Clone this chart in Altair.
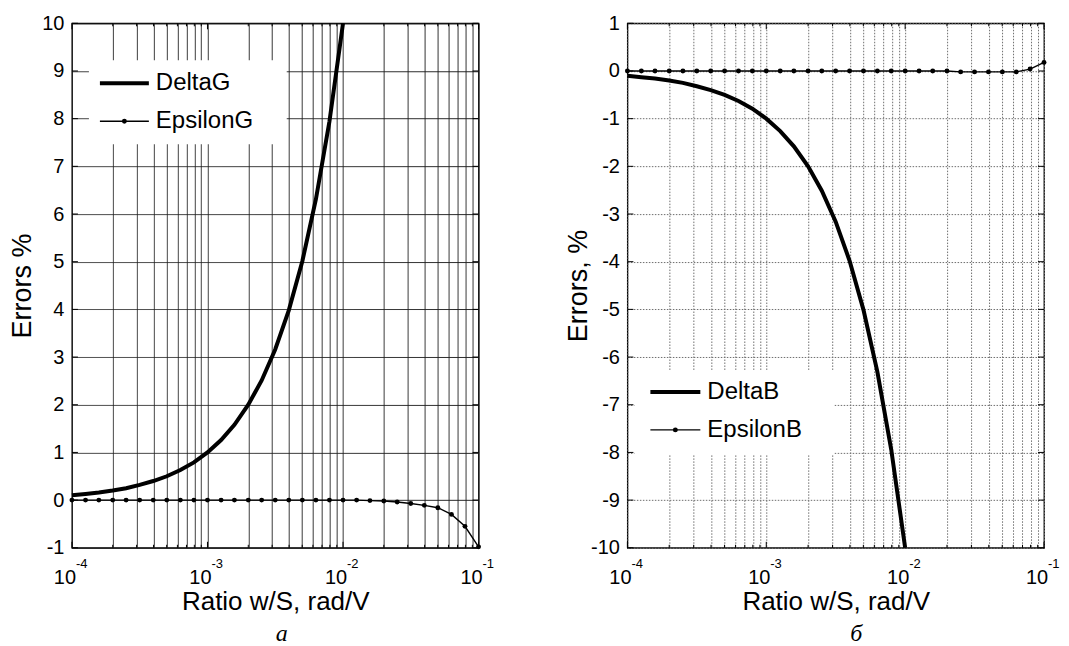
import altair as alt
import pandas as pd

# ---------------- data ----------------
x_ratio = [0.0001, 0.000126, 0.000158, 0.0002, 0.000251, 0.000316, 0.000398,
           0.000501, 0.000631, 0.000794, 0.001, 0.00126, 0.00158, 0.002,
           0.00251, 0.00316, 0.00398, 0.00501, 0.00631, 0.00794, 0.01,
           0.0126, 0.0158, 0.02, 0.0251, 0.0316, 0.0398, 0.0501, 0.0631,
           0.0794, 0.1]
delta_g = [0.10, 0.13, 0.16, 0.20, 0.25, 0.32, 0.40, 0.50, 0.63, 0.79, 1.00,
           1.26, 1.58, 2.00, 2.51, 3.16, 3.98, 5.01, 6.31, 7.94, 10.0]
eps_g = [0, 0, 0, 0, 0, 0, 0, 0, 0, 0, 0, 0, 0, 0, 0, 0, 0, 0, 0, 0, 0,
         0, -0.01, -0.02, -0.04, -0.07, -0.11, -0.16, -0.30, -0.55, -0.98]
delta_b = [-0.10, -0.13, -0.16, -0.20, -0.25, -0.32, -0.40, -0.50, -0.63,
           -0.79, -1.00, -1.26, -1.58, -2.00, -2.51, -3.16, -3.98, -5.01,
           -6.31, -7.94, -10.0]
eps_b = [0, 0, 0, 0, 0, 0, 0, 0, 0, 0, 0, 0, 0, 0, 0, 0, 0, 0, 0, 0, 0,
         0, 0, 0, -0.02, -0.02, -0.02, -0.02, -0.02, 0.04, 0.18]

names_a = ["DeltaG", "EpsilonG"]
names_b = ["DeltaB", "EpsilonB"]
x_title = "Ratio w/S, rad/V"
y_title_a = "Errors %"
y_title_b = "Errors, %"
sub_a = "а"
sub_b = "б"

grid_x = [0.0001, 0.0002, 0.0003, 0.0004, 0.0005, 0.0006, 0.0007, 0.0008, 0.0009,
          0.001, 0.002, 0.003, 0.004, 0.005, 0.006, 0.007, 0.008, 0.009,
          0.01, 0.02, 0.03, 0.04, 0.05, 0.06, 0.07, 0.08, 0.09, 0.1]
major_x = [0.0001, 0.001, 0.01, 0.1]
major_exp = ["-4", "-3", "-2", "-1"]
y_ticks_a = [-1, 0, 1, 2, 3, 4, 5, 6, 7, 8, 9, 10]
y_ticks_b = [-10, -9, -8, -7, -6, -5, -4, -3, -2, -1, 0, 1]

H = 525
FONT = "Liberation Sans"
THICK = 4
THIN = 1.4
DOT = 24


def panel(width, ydom, yticks, delta, eps, names, ytitle, grid_color, grid_dash,
          grid_width, leg, sub, sub_x):
    xenc = alt.X("x:Q",
                 scale=alt.Scale(type="log", domain=[1e-4, 0.1], nice=False),
                 axis=alt.Axis(values=grid_x, labels=False, ticks=False, tickSize=0,
                               domain=False, grid=True, gridColor=grid_color,
                               gridDash=grid_dash, gridWidth=grid_width,
                               gridOpacity=1,
                               title=x_title, titleFontSize=26,
                               titleFontWeight="normal", titleColor="black",
                               titleFont=FONT, titleY=54, titleBaseline="middle"))
    yenc = alt.Y("y:Q",
                 scale=alt.Scale(domain=ydom, nice=False, zero=False),
                 axis=alt.Axis(values=yticks, ticks=False, tickSize=0, domain=False,
                               grid=True, gridColor=grid_color, gridDash=grid_dash,
                               gridWidth=grid_width, gridOpacity=1,
                               labelFontSize=20, labelPadding=8, labelColor="black",
                               labelFont=FONT,
                               labelExpr="datum.value < 0 ? '-' + abs(datum.value) : '' + datum.value",
                               title=ytitle, titleFontSize=27, titleFontWeight="normal",
                               titleColor="black", titleFont=FONT,
                               titleX=-49, titleY=H / 2, titleBaseline="middle"))

    d_delta = pd.DataFrame({"x": x_ratio[:len(delta)], "y": delta})
    d_eps = pd.DataFrame({"x": x_ratio, "y": eps})
    d_major = pd.DataFrame({"x": major_x, "e": major_exp, "t": ["10"] * len(major_x)})
    d_minor = pd.DataFrame({"x": [v for v in grid_x if v not in major_x]})
    d_yt = pd.DataFrame({"y": yticks})

    base_delta = alt.Chart(d_delta).mark_line(color="black", strokeWidth=THICK).encode(x=xenc, y=yenc)
    eps_line = alt.Chart(d_eps).mark_line(color="black", strokeWidth=THIN).encode(x=xenc, y=yenc)
    eps_pts = alt.Chart(d_eps).mark_circle(color="black", size=DOT, opacity=1).encode(x=xenc, y=yenc)

    # inside ticks
    tick_major_b = alt.Chart(d_major).mark_rule(color="black", strokeWidth=1).encode(
        x=xenc, y=alt.value(H), y2=alt.value(H - 6))
    tick_major_t = alt.Chart(d_major).mark_rule(color="black", strokeWidth=1).encode(
        x=xenc, y=alt.value(0), y2=alt.value(6))
    tick_minor_b = alt.Chart(d_minor).mark_rule(color="black", strokeWidth=1).encode(
        x=xenc, y=alt.value(H), y2=alt.value(H - 3))
    tick_minor_t = alt.Chart(d_minor).mark_rule(color="black", strokeWidth=1).encode(
        x=xenc, y=alt.value(0), y2=alt.value(3))
    tick_y_l = alt.Chart(d_yt).mark_rule(color="black", strokeWidth=1).encode(
        y=yenc, x=alt.value(0), x2=alt.value(6))
    tick_y_r = alt.Chart(d_yt).mark_rule(color="black", strokeWidth=1).encode(
        y=yenc, x=alt.value(width), x2=alt.value(width - 6))

    # x tick labels 10^k
    lab10 = alt.Chart(d_major).mark_text(fontSize=20, font=FONT, color="black",
                                         align="center", baseline="alphabetic",
                                         dx=-7).encode(
        x=xenc, y=alt.value(H + 36), text="t:N")
    labexp = alt.Chart(d_major).mark_text(fontSize=13, font=FONT, color="black",
                                          align="left", baseline="alphabetic",
                                          dx=4).encode(
        x=xenc, y=alt.value(H + 20), text="e:N")

    # legend
    bx, by, bw, bh, lx1, lx2, ly1, ly2, tx = leg
    leg_df = pd.DataFrame({"name": names})
    leg_box = alt.Chart(leg_df.head(1)).mark_rect(fill="white", stroke=None).encode(
        x=alt.value(bx), x2=alt.value(bx + bw), y=alt.value(by), y2=alt.value(by + bh))
    leg_l1 = alt.Chart(leg_df.head(1)).mark_rule(color="black", strokeWidth=THICK).encode(
        x=alt.value(lx1), x2=alt.value(lx2), y=alt.value(ly1))
    leg_l2 = alt.Chart(leg_df.head(1)).mark_rule(color="black", strokeWidth=THIN).encode(
        x=alt.value(lx1), x2=alt.value(lx2), y=alt.value(ly2))
    leg_p2 = alt.Chart(leg_df.head(1)).mark_circle(color="black", size=DOT, opacity=1).encode(
        x=alt.value((lx1 + lx2) / 2), y=alt.value(ly2))
    leg_t1 = alt.Chart(leg_df.iloc[[0]]).mark_text(fontSize=24, font=FONT, color="black",
                                                   align="left", baseline="middle").encode(
        x=alt.value(tx), y=alt.value(ly1), text="name:N")
    leg_t2 = alt.Chart(leg_df.iloc[[1]]).mark_text(fontSize=24, font=FONT, color="black",
                                                   align="left", baseline="middle").encode(
        x=alt.value(tx), y=alt.value(ly2), text="name:N")

    sub_t = alt.Chart(pd.DataFrame({"s": [sub]})).mark_text(
        fontSize=24, font="Liberation Serif", fontStyle="italic", color="black",
        align="center", baseline="alphabetic").encode(
        x=alt.value(sub_x), y=alt.value(H + 93), text="s:N")

    return alt.layer(base_delta, eps_line, eps_pts,
                     tick_major_b, tick_major_t, tick_minor_b, tick_minor_t,
                     tick_y_l, tick_y_r, lab10, labexp,
                     leg_box, leg_l1, leg_l2, leg_p2, leg_t1, leg_t2,
                     sub_t).properties(width=width, height=H)


left = panel(407, [-1, 10], y_ticks_a, delta_g, eps_g, names_a, y_title_a,
             "#1e1e1e", [1, 0], 1,
             (17, 37, 198, 84, 28, 77, 60, 98, 84), sub_a, 210)
right = panel(417, [-10, 1], y_ticks_b, delta_b, eps_b, names_b, y_title_b,
              "#6e6e6e", [1.5, 1.5], 1,
              (7, 347, 200, 85, 23, 73, 369, 407, 80), sub_b, 229)

chart = alt.hconcat(left, right, spacing=149, bounds="flush").properties(
    padding={"left": 0, "top": 4, "right": 0, "bottom": 0},
    background="white",
).configure(font=FONT).configure_view(stroke="black", strokeWidth=1.3)

chart.save("out.html", embed_options={"renderer": "svg", "actions": False})
